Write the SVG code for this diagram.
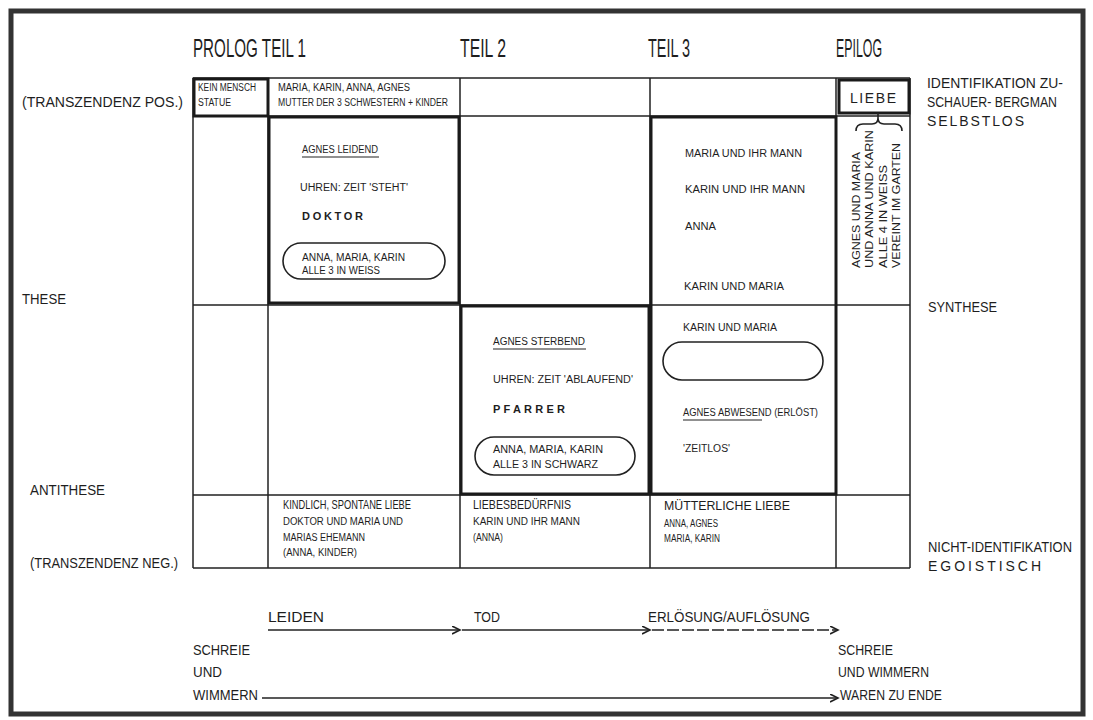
<svg xmlns="http://www.w3.org/2000/svg" width="1093" height="720" viewBox="0 0 1093 720">
<style>
text{font-family:"Liberation Sans Narrow","Liberation Sans",Arial,sans-serif;fill:#1e1e1e}
.h{font-size:25px}
.l{font-size:14px}
.s{font-size:10px}
.m{font-size:11px}
.b{font-size:13px}
.sp{font-weight:bold;letter-spacing:2px}
.g{stroke:#222;stroke-width:1.5;fill:none}
.t{stroke:#1a1a1a;stroke-width:3;fill:none}
.u{stroke:#222;stroke-width:1.2}
.a{stroke:#222;stroke-width:1.6;fill:none}
</style>
<defs>
<marker id="ah" markerWidth="10" markerHeight="10" refX="8" refY="4" orient="auto" markerUnits="userSpaceOnUse">
<path d="M0,0 L8,4 L0,8" fill="none" stroke="#222" stroke-width="1.6"/>
</marker>
</defs>
<rect x="0" y="0" width="1093" height="720" fill="#fff"/>
<rect x="11" y="11" width="1072" height="703" fill="none" stroke="#333" stroke-width="5"/>

<g id="headers">
<text class="h" x="193" y="57" textLength="113" lengthAdjust="spacingAndGlyphs">PROLOG TEIL 1</text>
<text class="h" x="460" y="57" textLength="46" lengthAdjust="spacingAndGlyphs">TEIL 2</text>
<text class="h" x="648" y="57" textLength="42" lengthAdjust="spacingAndGlyphs">TEIL 3</text>
<text class="h" x="836" y="57" textLength="46" lengthAdjust="spacingAndGlyphs">EPILOG</text>
</g>

<g id="left-labels">
<text class="l" x="22" y="107" textLength="161" lengthAdjust="spacingAndGlyphs">(TRANSZENDENZ POS.)</text>
<text class="l" x="22" y="304" textLength="44" lengthAdjust="spacingAndGlyphs">THESE</text>
<text class="l" x="30" y="495" textLength="75" lengthAdjust="spacingAndGlyphs">ANTITHESE</text>
<text class="l" x="30" y="568" textLength="148" lengthAdjust="spacingAndGlyphs">(TRANSZENDENZ NEG.)</text>
</g>

<g id="right-labels">
<text class="l" x="927" y="88" textLength="136" lengthAdjust="spacingAndGlyphs">IDENTIFIKATION ZU-</text>
<text class="l" x="927" y="107" textLength="130" lengthAdjust="spacingAndGlyphs">SCHAUER- BERGMAN</text>
<text class="l" x="927" y="126" textLength="101" lengthAdjust="spacing" letter-spacing="4">SELBSTLOS</text>
<text class="l" x="928" y="312" textLength="69" lengthAdjust="spacingAndGlyphs">SYNTHESE</text>
<text class="l" x="928" y="552" textLength="144" lengthAdjust="spacingAndGlyphs">NICHT-IDENTIFIKATION</text>
<text class="l" x="928" y="571" textLength="117" lengthAdjust="spacing" letter-spacing="4">EGOISTISCH</text>
</g>

<g id="grid">
<path class="g" d="M193,78 H910 M193,116 H910 M193,305 H910 M193,495 H910 M193,568 H910"/>
<path class="g" d="M193,78 V568 M268,78 V568 M460,78 V568 M650,78 V568 M836,78 V568 M910,78 V568"/>
</g>

<g id="prolog-top">
<rect class="t" x="194" y="79" width="74" height="37"/>
<text class="s" x="198" y="91" textLength="58" lengthAdjust="spacingAndGlyphs">KEIN MENSCH</text>
<text class="s" x="198" y="106" textLength="33" lengthAdjust="spacingAndGlyphs">STATUE</text>
</g>

<g id="teil1-top">
<text class="s" x="278" y="91" textLength="132" lengthAdjust="spacingAndGlyphs">MARIA, KARIN, ANNA, AGNES</text>
<text class="s" x="278" y="106" textLength="170" lengthAdjust="spacingAndGlyphs">MUTTER DER 3 SCHWESTERN + KINDER</text>
</g>

<g id="epilog-liebe">
<rect class="t" x="839" y="80" width="70" height="33"/>
<text class="l" x="850" y="103" textLength="48" lengthAdjust="spacing" letter-spacing="2">LIEBE</text>
<path class="a" d="M878,113 V118 M856,131 Q856,124 863,124 L872,124 Q878,124 878,118 Q878,124 884,124 L895,124 Q902,124 902,131"/>
</g>

<g id="epilog-garten">
<text class="m" transform="translate(860,268) rotate(-90)" textLength="116" lengthAdjust="spacingAndGlyphs">AGNES UND MARIA</text>
<text class="m" transform="translate(873,268) rotate(-90)" textLength="138" lengthAdjust="spacingAndGlyphs">UND ANNA UND KARIN</text>
<text class="m" transform="translate(887,268) rotate(-90)" textLength="103" lengthAdjust="spacingAndGlyphs">ALLE 4 IN WEISS</text>
<text class="m" transform="translate(900,268) rotate(-90)" textLength="125" lengthAdjust="spacingAndGlyphs">VEREINT IM GARTEN</text>
</g>

<g id="teil1-leidend">
<rect class="t" x="269" y="117" width="190" height="186"/>
<text class="s" x="302" y="153" textLength="76" lengthAdjust="spacingAndGlyphs">AGNES LEIDEND</text>
<line class="u" x1="302" y1="157" x2="379" y2="157"/>
<text class="s" x="300" y="191" textLength="108" lengthAdjust="spacingAndGlyphs">UHREN: ZEIT 'STEHT'</text>
<text class="m sp" x="302" y="220" textLength="63" lengthAdjust="spacing">DOKTOR</text>
<rect class="a" x="283" y="243" width="162" height="36" rx="18"/>
<text class="s" x="302" y="261" textLength="103" lengthAdjust="spacingAndGlyphs">ANNA, MARIA, KARIN</text>
<text class="s" x="302" y="274" textLength="78" lengthAdjust="spacingAndGlyphs">ALLE 3 IN WEISS</text>
</g>

<g id="teil3-paare">
<rect class="t" x="651" y="117" width="185" height="377"/>
<text class="s" x="685" y="157" textLength="117" lengthAdjust="spacingAndGlyphs">MARIA UND IHR MANN</text>
<text class="s" x="685" y="193" textLength="120" lengthAdjust="spacingAndGlyphs">KARIN UND IHR MANN</text>
<text class="s" x="685" y="230" textLength="31" lengthAdjust="spacingAndGlyphs">ANNA</text>
<text class="s" x="684" y="290" textLength="100" lengthAdjust="spacingAndGlyphs">KARIN UND MARIA</text>
<text class="s" x="683" y="331" textLength="94" lengthAdjust="spacingAndGlyphs">KARIN UND MARIA</text>
<rect class="a" x="663" y="342" width="160" height="38" rx="19"/>
<text class="s" x="683" y="416" textLength="135" lengthAdjust="spacingAndGlyphs">AGNES ABWESEND (ERLÖST)</text>
<line class="u" x1="683" y1="420" x2="762" y2="420"/>
<text class="s" x="683" y="452" textLength="47" lengthAdjust="spacingAndGlyphs">'ZEITLOS'</text>
</g>

<g id="teil2-sterbend">
<rect class="t" x="461" y="306" width="188" height="188"/>
<text class="s" x="493" y="345" textLength="92" lengthAdjust="spacingAndGlyphs">AGNES STERBEND</text>
<line class="u" x1="493" y1="349" x2="586" y2="349"/>
<text class="s" x="493" y="383" textLength="140" lengthAdjust="spacingAndGlyphs">UHREN: ZEIT 'ABLAUFEND'</text>
<text class="m sp" x="493" y="413" textLength="74" lengthAdjust="spacing">PFARRER</text>
<rect class="a" x="475" y="437" width="160" height="38" rx="19"/>
<text class="s" x="493" y="453" textLength="110" lengthAdjust="spacingAndGlyphs">ANNA, MARIA, KARIN</text>
<text class="s" x="493" y="468" textLength="105" lengthAdjust="spacingAndGlyphs">ALLE 3 IN SCHWARZ</text>
</g>

<g id="teil1-bottom">
<text class="b" x="283" y="509" textLength="128" lengthAdjust="spacingAndGlyphs">KINDLICH, SPONTANE LIEBE</text>
<text class="s" x="283" y="525" textLength="120" lengthAdjust="spacingAndGlyphs">DOKTOR UND MARIA UND</text>
<text class="s" x="283" y="541" textLength="82" lengthAdjust="spacingAndGlyphs">MARIAS EHEMANN</text>
<text class="s" x="283" y="556" textLength="74" lengthAdjust="spacingAndGlyphs">(ANNA, KINDER)</text>
</g>

<g id="teil2-bottom">
<text class="b" x="473" y="509" textLength="98" lengthAdjust="spacingAndGlyphs">LIEBESBEDÜRFNIS</text>
<text class="s" x="473" y="525" textLength="107" lengthAdjust="spacingAndGlyphs">KARIN UND IHR MANN</text>
<text class="s" x="473" y="541" textLength="30" lengthAdjust="spacingAndGlyphs">(ANNA)</text>
</g>

<g id="teil3-bottom">
<text class="b" x="664" y="510" textLength="126" lengthAdjust="spacingAndGlyphs">MÜTTERLICHE LIEBE</text>
<text class="s" x="664" y="527" textLength="54" lengthAdjust="spacingAndGlyphs">ANNA, AGNES</text>
<text class="s" x="664" y="542" textLength="56" lengthAdjust="spacingAndGlyphs">MARIA, KARIN</text>
</g>

<g id="stages">
<text class="l" x="268" y="622" textLength="56" lengthAdjust="spacingAndGlyphs">LEIDEN</text>
<text class="l" x="474" y="622" textLength="26" lengthAdjust="spacingAndGlyphs">TOD</text>
<text class="l" x="648" y="622" textLength="162" lengthAdjust="spacingAndGlyphs">ERLÖSUNG/AUFLÖSUNG</text>
</g>

<g id="start-label">
<text class="l" x="193" y="655" textLength="57" lengthAdjust="spacingAndGlyphs">SCHREIE</text>
<text class="l" x="193" y="677" textLength="29" lengthAdjust="spacingAndGlyphs">UND</text>
<text class="l" x="193" y="700" textLength="65" lengthAdjust="spacingAndGlyphs">WIMMERN</text>
</g>

<g id="end-label">
<text class="l" x="838" y="655" textLength="55" lengthAdjust="spacingAndGlyphs">SCHREIE</text>
<text class="l" x="838" y="677" textLength="91" lengthAdjust="spacingAndGlyphs">UND WIMMERN</text>
<text class="l" x="840" y="700" textLength="102" lengthAdjust="spacingAndGlyphs">WAREN ZU ENDE</text>
</g>

<g id="connectors">
<line class="a" x1="268" y1="630" x2="460" y2="630" marker-end="url(#ah)"/>
<line class="a" x1="462" y1="630" x2="650" y2="630" marker-end="url(#ah)"/>
<line class="a" x1="652" y1="630" x2="838" y2="630" stroke-dasharray="12 3" marker-end="url(#ah)"/>
<line class="a" x1="262" y1="698" x2="838" y2="698" marker-end="url(#ah)"/>
</g>
</svg>
